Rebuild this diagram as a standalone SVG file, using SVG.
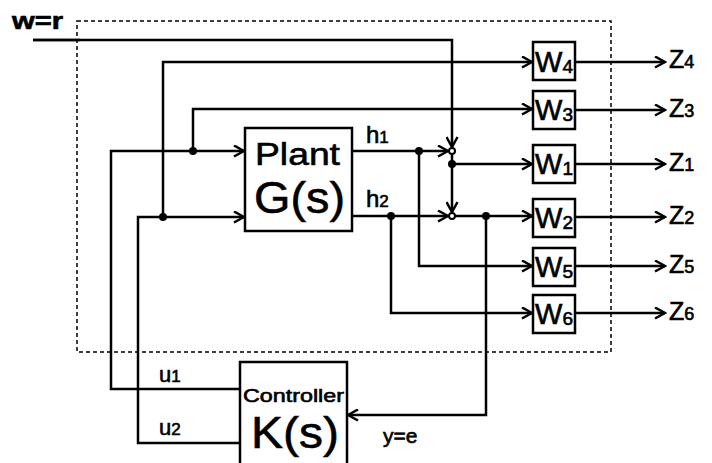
<svg xmlns="http://www.w3.org/2000/svg" width="712" height="463" viewBox="0 0 712 463">
<defs>
<style>
.ln{fill:none;stroke:#000;stroke-width:2.5}
.bx{fill:#fff;stroke:#000;stroke-width:2.5}
.dash{fill:none;stroke:#000;stroke-width:1.5;stroke-dasharray:4 3}
.t{font-family:"Liberation Sans",Arial,sans-serif;fill:#000;stroke:#000;stroke-width:0.6}
.dot{fill:#000}
.sj{fill:#fff;stroke:#000;stroke-width:2}
</style>
<marker id="ar" markerWidth="13" markerHeight="13" refX="11" refY="6" orient="auto" markerUnits="userSpaceOnUse" viewBox="0 0 13 12">
<path d="M1,0.5 L11,6 L1,11.5" fill="none" stroke="#000" stroke-width="2.5"/>
</marker>
</defs>
<rect width="712" height="463" fill="#fff"/>
<rect class="dash" x="77" y="21" width="534" height="331"/>
<g id="connectors">
<path class="ln" d="M33,40 H452 V147" marker-end="url(#ar)"/>
<path class="ln" d="M33,40 H80" stroke-width="3.5"/>
<path class="ln" d="M163,217 V62 H532" marker-end="url(#ar)"/>
<path class="ln" d="M193,151 V109 H532" marker-end="url(#ar)"/>
<path class="ln" d="M240,389 H111 V151 H244" marker-end="url(#ar)"/>
<path class="ln" d="M240,443 H138 V217 H244" marker-end="url(#ar)"/>
<path class="ln" d="M352,151 H448" marker-end="url(#ar)"/>
<path class="ln" d="M352,216 H448" marker-end="url(#ar)"/>
<path class="ln" d="M452,155 V212" marker-end="url(#ar)"/>
<path class="ln" d="M452,164 H532" marker-end="url(#ar)"/>
<path class="ln" d="M455,216 H532" marker-end="url(#ar)"/>
<path class="ln" d="M419,151 V266 H532" marker-end="url(#ar)"/>
<path class="ln" d="M391,216 V313 H532" marker-end="url(#ar)"/>
<path class="ln" d="M486,216 V415 H348" marker-end="url(#ar)"/>
<path class="ln" d="M575,62 H665" marker-end="url(#ar)"/>
<path class="ln" d="M575,110 H665" marker-end="url(#ar)"/>
<path class="ln" d="M575,164 H665" marker-end="url(#ar)"/>
<path class="ln" d="M575,217 H665" marker-end="url(#ar)"/>
<path class="ln" d="M575,266 H665" marker-end="url(#ar)"/>
<path class="ln" d="M575,313 H665" marker-end="url(#ar)"/>
<circle class="dot" cx="163" cy="217" r="4"/>
<circle class="dot" cx="193" cy="151" r="4"/>
<circle class="dot" cx="419" cy="151" r="4"/>
<circle class="dot" cx="391" cy="216" r="4"/>
<circle class="dot" cx="452" cy="164" r="4"/>
<circle class="dot" cx="486" cy="216" r="4"/>
<circle class="sj" cx="452" cy="151" r="3"/>
<circle class="sj" cx="452" cy="216" r="3"/>
</g>
<g id="plant">
<rect class="bx" x="245" y="128" width="107" height="103"/>
<text class="t" x="255" y="165" font-size="31" textLength="85" lengthAdjust="spacingAndGlyphs">Plant</text>
<text class="t" x="254" y="213" font-size="45" textLength="91" lengthAdjust="spacingAndGlyphs">G(s)</text>
</g>
<g id="controller">
<rect class="bx" x="240" y="362" width="107" height="110"/>
<text class="t" x="243" y="402" font-size="18" textLength="101" lengthAdjust="spacingAndGlyphs">Controller</text>
<text class="t" x="251" y="448" font-size="45" textLength="88" lengthAdjust="spacingAndGlyphs">K(s)</text>
</g>
<g id="W4"><rect class="bx" x="533" y="42" width="42" height="38"/><text class="t" x="535" y="72" font-size="29">W<tspan font-size="19" dy="1">4</tspan></text></g>
<g id="W3"><rect class="bx" x="533" y="91" width="42" height="38"/><text class="t" x="535" y="120" font-size="29">W<tspan font-size="19" dy="1">3</tspan></text></g>
<g id="W1"><rect class="bx" x="533" y="145" width="42" height="38"/><text class="t" x="535" y="174" font-size="29">W<tspan font-size="19" dy="1">1</tspan></text></g>
<g id="W2"><rect class="bx" x="533" y="199" width="42" height="38"/><text class="t" x="535" y="228" font-size="29">W<tspan font-size="19" dy="1">2</tspan></text></g>
<g id="W5"><rect class="bx" x="533" y="248" width="42" height="38"/><text class="t" x="535" y="277" font-size="29">W<tspan font-size="19" dy="1">5</tspan></text></g>
<g id="W6"><rect class="bx" x="533" y="295" width="42" height="38"/><text class="t" x="535" y="324" font-size="29">W<tspan font-size="19" dy="1">6</tspan></text></g>
<g id="labels">
<text class="t" x="12" y="29" font-size="23" font-weight="bold" textLength="51" lengthAdjust="spacingAndGlyphs">w=r</text>
<text class="t" x="366" y="143" font-size="24">h<tspan font-size="17">1</tspan></text>
<text class="t" x="366" y="207" font-size="24">h<tspan font-size="17">2</tspan></text>
<text class="t" x="159" y="382" font-size="22">u<tspan font-size="17">1</tspan></text>
<text class="t" x="159" y="435" font-size="22">u<tspan font-size="17">2</tspan></text>
<text class="t" x="383" y="443" font-size="21">y=e</text>
<text class="t" x="669" y="68" font-size="25">Z<tspan font-size="18">4</tspan></text>
<text class="t" x="669" y="117" font-size="25">Z<tspan font-size="18">3</tspan></text>
<text class="t" x="669" y="171" font-size="25">Z<tspan font-size="18">1</tspan></text>
<text class="t" x="669" y="224" font-size="25">Z<tspan font-size="18">2</tspan></text>
<text class="t" x="669" y="273" font-size="25">Z<tspan font-size="18">5</tspan></text>
<text class="t" x="669" y="320" font-size="25">Z<tspan font-size="18">6</tspan></text>
</g>
</svg>
